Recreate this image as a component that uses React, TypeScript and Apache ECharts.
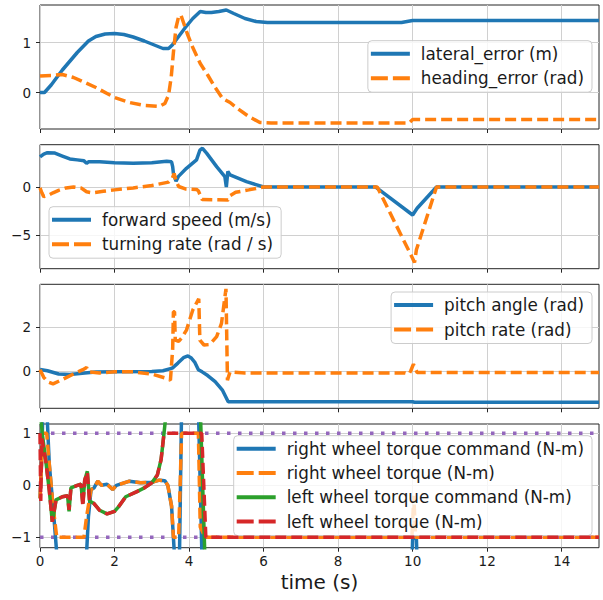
import React, { useEffect, useRef } from "react";
import * as echarts from "echarts";

// ---------- tick labels ----------
const timeTicks = [0, 2, 4, 6, 8, 10, 12, 14];
const errorTicks = [0, 1];
const speedTicks = [-5, 0];
const pitchTicks = [0, 2];
const torqueTicks = [-1, 0, 1];

// ---------- panel 1: tracking errors ----------
const lateralError: [number, number][] = [
  [0, 0], [0.12, 0.0], [0.3, 0.15], [0.6, 0.45], [1.0, 0.8], [1.3, 1.03], [1.5, 1.12], [1.75, 1.17],
  [2.0, 1.18], [2.25, 1.16], [2.5, 1.11], [2.8, 1.03], [3.1, 0.94], [3.3, 0.88], [3.45, 0.88],
  [3.55, 0.95], [3.7, 1.1], [3.9, 1.3], [4.1, 1.48], [4.3, 1.62], [4.45, 1.6], [4.6, 1.6],
  [4.8, 1.62], [5.0, 1.65], [5.2, 1.58], [5.5, 1.48], [5.8, 1.42], [6.1, 1.4], [8, 1.4],
  [9.7, 1.4], [10.0, 1.44], [15, 1.44],
];
const headingError: [number, number][] = [
  [0, 0.33], [0.3, 0.34], [0.6, 0.36], [0.9, 0.3], [1.2, 0.2], [1.5, 0.1], [1.8, -0.02], [2.0, -0.1],
  [2.4, -0.2], [2.8, -0.26], [3.2, -0.28], [3.35, -0.22], [3.45, -0.05], [3.52, 0.3], [3.58, 0.8],
  [3.65, 1.3], [3.72, 1.52], [3.78, 1.55], [3.85, 1.4], [3.95, 1.18], [4.1, 0.9], [4.3, 0.58],
  [4.5, 0.35], [4.7, 0.1], [4.9, -0.12], [5.1, -0.2], [5.3, -0.32], [5.6, -0.48], [5.9, -0.6],
  [6.2, -0.61], [9.9, -0.61], [10.0, -0.54], [15, -0.54],
];

// ---------- panel 2: speeds ----------
const forwardSpeed: [number, number][] = [
  [0, 3.1], [0.1, 3.4], [0.2, 3.55], [0.4, 3.5], [0.6, 3.2], [0.8, 2.9], [1.0, 2.8], [1.18, 2.7],
  [1.25, 2.45], [1.3, 2.6], [1.6, 2.6], [2.0, 2.5], [2.5, 2.45], [3.0, 2.5], [3.4, 2.65], [3.53, 2.6],
  [3.56, 2.1], [3.58, 1.4], [3.65, 0.6], [3.71, 1.07], [3.93, 1.93], [4.2, 2.8], [4.29, 3.8],
  [4.36, 4.0], [4.47, 3.5], [4.74, 2.1], [4.96, 1.07], [5.0, 0.0], [5.04, 1.6], [5.1, 1.24],
  [5.54, 0.55], [6.0, 0], [9.0, 0], [10.0, -2.9], [10.12, -2.2], [10.64, 0], [15, 0],
];
const turningRate: [number, number][] = [
  [0, -0.1], [0.05, -0.6], [0.1, -1.0], [0.2, -0.9], [0.35, -0.6], [0.5, -0.35], [0.7, -0.1],
  [0.9, 0.0], [1.1, -0.1], [1.25, -0.5], [1.4, -0.6], [1.7, -0.45], [2.0, -0.3], [2.5, -0.1],
  [3.0, 0.15], [3.45, 0.5], [3.55, 0.9], [3.6, 1.4], [3.65, 0.6], [3.72, 0.05], [3.9, -0.2],
  [4.2, -0.25], [4.25, -0.4], [4.35, -1.3], [5.05, -1.35], [5.1, -0.9], [5.25, -0.55], [5.6, -0.3],
  [6.0, 0], [9.05, 0], [10.0, -7.4], [10.05, -7.8], [10.1, -6.5], [10.64, 0], [15, 0],
];

// ---------- panel 3: pitch ----------
const pitchAngle: [number, number][] = [
  [0, 0.06], [0.2, 0.0], [0.5, -0.15], [0.8, -0.17], [1.2, -0.1], [1.5, -0.06], [2.0, -0.05],
  [3.0, -0.03], [3.3, 0.0], [3.55, 0.12], [3.7, 0.35], [3.85, 0.6], [3.97, 0.68], [4.05, 0.6],
  [4.15, 0.4], [4.25, 0.05], [4.35, -0.05], [4.5, -0.22], [4.7, -0.5], [4.9, -0.9], [5.05, -1.42],
  [10, -1.42], [10.05, -1.44], [15, -1.44],
];
const pitchRate: [number, number][] = [
  [0, 0.05], [0.1, -0.3], [0.2, -0.5], [0.35, -0.6], [0.6, -0.4], [0.9, -0.15], [1.15, 0.05],
  [1.25, 0.15], [1.3, -0.05], [1.6, -0.1], [2.0, -0.05], [2.5, -0.05], [3.0, -0.15], [3.4, -0.35],
  [3.5, -0.43], [3.56, 1.0], [3.58, 2.7], [3.61, 2.7], [3.63, 1.4], [3.72, 1.35], [3.8, 1.5],
  [3.93, 1.86], [4.1, 2.78], [4.26, 3.3], [4.29, 1.4], [4.4, 1.18], [4.55, 1.2], [4.74, 1.56],
  [4.87, 2.17], [4.99, 3.75], [5.03, -0.43], [5.1, -0.05], [5.5, -0.1], [9.8, -0.1], [9.9, -0.15],
  [9.95, 0.0], [10.02, 0.3], [10.07, 0.1], [10.12, -0.08], [15, -0.08],
];

// ---------- panel 4: wheel torques ----------
const rightTorqueCmd: [number, number][] = [
  [0, -0.25], [0.04, 0.4], [0.08, 1.5], [0.18, 1.5], [0.25, 0.4], [0.35, -0.4], [0.47, -1.5],
  [1.18, -1.5], [1.25, -1.3], [1.3, -0.6], [1.37, -0.08], [1.45, -0.05], [1.55, 0.08], [1.65, 0.0],
  [1.8, 0.02], [1.95, -0.08], [2.05, 0.0], [2.4, 0.08], [2.7, 0.05], [3.0, 0.06], [3.2, 0.1],
  [3.35, 0.09], [3.43, 0.0], [3.53, -0.4], [3.58, -1.0], [3.62, -1.5], [3.74, -1.5], [3.8, 1.5],
  [4.25, 1.5], [4.35, -1.5], [9.98, -1.5], [10.0, -1.02], [10.1, -1.02], [10.12, -1.5], [15, -1.5],
];
const rightTorque: [number, number][] = [
  [0, -0.25], [0.04, 0.4], [0.08, 1.0], [0.18, 1.0], [0.25, 0.4], [0.35, -0.4], [0.45, -1.0],
  [1.18, -1.0], [1.25, -0.6], [1.37, -0.08], [1.45, -0.05], [1.55, 0.08], [1.65, 0.0],
  [1.8, 0.02], [1.95, -0.08], [2.05, 0.0], [2.4, 0.08], [2.7, 0.05], [3.0, 0.06], [3.2, 0.1],
  [3.35, 0.09], [3.43, 0.0], [3.53, -0.4], [3.58, -1.0], [3.72, -1.0], [3.8, 1.0], [4.25, 1.0],
  [4.3, -0.8], [4.43, -1.0], [9.98, -1.0], [10.03, -0.2], [10.08, -1.0], [15, -1.0],
];
const leftTorqueCmd: [number, number][] = [
  [0, 1.5], [0.06, 1.0], [0.15, 0.5], [0.25, -0.1], [0.33, -0.7], [0.38, -0.5], [0.43, -0.28],
  [0.6, -0.22], [0.74, -0.2], [0.78, -0.5], [0.83, -0.05], [1.0, 0.0], [1.1, 0.02], [1.15, -0.35],
  [1.2, 0.1], [1.27, 0.27], [1.33, -0.3], [1.45, -0.35], [1.6, -0.48], [1.8, -0.55], [2.0, -0.5],
  [2.1, -0.42], [2.3, -0.22], [2.6, -0.12], [2.8, -0.05], [3.0, 0.05], [3.15, 0.2], [3.25, 0.5],
  [3.32, 0.95], [3.4, 1.5], [4.3, 1.5], [4.43, -1.5], [15, -1.5],
];
const leftTorque: [number, number][] = [
  [0, 1.0], [0.02, -0.3], [0.05, 0.9], [0.15, 0.5], [0.25, -0.1], [0.33, -0.7], [0.38, -0.5],
  [0.43, -0.28], [0.6, -0.22], [0.74, -0.2], [0.78, -0.47], [0.83, -0.05], [1.0, 0.0], [1.1, 0.02],
  [1.15, -0.4], [1.2, 0.1], [1.27, 0.25], [1.33, -0.3], [1.45, -0.35], [1.6, -0.48], [1.8, -0.55],
  [2.0, -0.5], [2.1, -0.42], [2.3, -0.22], [2.6, -0.12], [2.8, -0.05], [3.0, 0.05], [3.15, 0.2],
  [3.25, 0.5], [3.32, 0.95], [3.38, 1.0], [4.34, 1.0], [4.45, -1.0], [15, -1.0],
];
const torqueLimits = [1, -1];

const BLUE = "#1f77b4";
const ORANGE = "#ff7f0e";
const GREEN = "#2ca02c";
const RED = "#d62728";
const PURPLE = "#9467bd";
const FONT = "DejaVu Sans";
const INK = "#1a1a1a";

const SOLID_ICON = "path://M0,0h39v4h-39z";
const DASHED_ICON = "path://M0,0h17v4h-17z M22,0h17v4h-17z";

const minus = (v: number) => String(v).replace("-", "\u2212");

export default function App() {
  const ref = useRef<HTMLDivElement>(null);
  useEffect(() => {
    if (!ref.current) return;
    const chart = echarts.init(ref.current, undefined, { renderer: "svg" });

    const grids = [
      { top: 5, height: 124 },
      { top: 144.7, height: 124 },
      { top: 284.3, height: 124 },
      { top: 424, height: 123.7 },
    ].map((g) => ({
      left: 40,
      width: 559,
      top: g.top,
      height: g.height,
      show: true,
      borderColor: "#262626",
      borderWidth: 1,
      backgroundColor: "transparent",
      containLabel: false,
    }));

    const splitLine = { show: true, lineStyle: { color: "#d0d0d0", width: 1 } };

    const xAxes = [0, 1, 2, 3].map((i) => ({
      type: "value",
      gridIndex: i,
      min: 0,
      max: 15,
      axisLine: { show: false, onZero: false },
      axisTick: { show: true, length: 4, lineStyle: { color: "#262626" }, customValues: timeTicks },
      axisLabel: {
        show: i === 3,
        customValues: timeTicks,
        margin: 6,
        fontSize: 13.5,
        fontFamily: FONT,
        color: INK,
        formatter: minus,
      },
      splitLine,
      name: i === 3 ? "time (s)" : "",
      nameLocation: "middle",
      nameGap: 24,
      nameTextStyle: { fontSize: 20, fontFamily: FONT, color: INK },
    }));

    const yRanges = [
      { min: -0.73, max: 1.75, ticks: errorTicks },
      { min: -8.45, max: 4.37, ticks: speedTicks },
      { min: -1.72, max: 3.96, ticks: pitchTicks },
      { min: -1.2, max: 1.18, ticks: torqueTicks },
    ];
    const yAxes = yRanges.map((r, i) => ({
      type: "value",
      gridIndex: i,
      min: r.min,
      max: r.max,
      axisLine: { show: false, onZero: false },
      axisTick: { show: true, length: 4, lineStyle: { color: "#262626" }, customValues: r.ticks },
      axisLabel: {
        show: true,
        customValues: r.ticks,
        margin: 9,
        fontSize: 13.5,
        fontFamily: FONT,
        color: INK,
        formatter: minus,
      },
      splitLine,
    }));

    const line = (name: string, data: [number, number][], idx: number, color: string, dashed: boolean, z: number) => ({
      type: "line",
      name,
      data,
      xAxisIndex: idx,
      yAxisIndex: idx,
      symbol: "none",
      showSymbol: false,
      clip: true,
      silent: true,
      z,
      itemStyle: { color },
      lineStyle: { color, width: 3.5, type: dashed ? [11, 5] : "solid" },
    });

    const limitSeries = torqueLimits.map((v, k) => ({
      type: "line",
      name: k === 0 ? "upper torque limit" : "lower torque limit",
      data: [[0, v], [15, v]],
      xAxisIndex: 3,
      yAxisIndex: 3,
      symbol: "none",
      clip: true,
      silent: true,
      z: 1,
      lineStyle: { color: PURPLE, width: 3.5, type: [3.5, 7.5] },
      itemStyle: { color: PURPLE },
    }));

    const legendBase = {
      orient: "vertical",
      itemWidth: 39,
      itemHeight: 14,
      itemGap: 4.5,
      padding: [3, 8, 4, 3],
      backgroundColor: "rgba(255,255,255,0.8)",
      borderColor: "#cccccc",
      borderWidth: 1,
      borderRadius: 4,
      selectedMode: false,
      symbolKeepAspect: true,
      textStyle: { fontSize: 16.8, fontFamily: FONT, color: INK, lineHeight: 20, padding: [0, 0, 0, 6] },
    };
    const items = (names: string[]) =>
      names.map((name, k) => ({ name, icon: k % 2 === 0 ? SOLID_ICON : DASHED_ICON }));

    chart.setOption({
      animation: false,
      grid: grids,
      xAxis: xAxes,
      yAxis: yAxes,
      legend: [
        { ...legendBase, data: items(["lateral_error (m)", "heading_error (rad)"]), right: 11, top: 40.7 },
        { ...legendBase, data: items(["forward speed (m/s)", "turning rate (rad / s)"]), left: 49, top: 206.7 },
        { ...legendBase, data: items(["pitch angle (rad)", "pitch rate (rad)"]), right: 11, top: 292 },
        {
          ...legendBase,
          data: items([
            "right wheel torque command (N-m)",
            "right wheel torque (N-m)",
            "left wheel torque command (N-m)",
            "left wheel torque (N-m)",
          ]),
          itemGap: 4.3,
          right: 11,
          top: 435.7,
        },
      ],
      series: [
        line("lateral_error (m)", lateralError, 0, BLUE, false, 2),
        line("heading_error (rad)", headingError, 0, ORANGE, true, 3),
        line("forward speed (m/s)", forwardSpeed, 1, BLUE, false, 2),
        line("turning rate (rad / s)", turningRate, 1, ORANGE, true, 3),
        line("pitch angle (rad)", pitchAngle, 2, BLUE, false, 2),
        line("pitch rate (rad)", pitchRate, 2, ORANGE, true, 3),
        ...limitSeries,
        line("right wheel torque command (N-m)", rightTorqueCmd, 3, BLUE, false, 2),
        line("right wheel torque (N-m)", rightTorque, 3, ORANGE, true, 3),
        line("left wheel torque command (N-m)", leftTorqueCmd, 3, GREEN, false, 4),
        line("left wheel torque (N-m)", leftTorque, 3, RED, true, 5),
      ],
    });
    return () => chart.dispose();
  }, []);
  return (
    <div
      ref={ref}
      style={{ position: "absolute", left: 0, top: 0, width: 603, height: 600, background: "#fff" }}
    />
  );
}
